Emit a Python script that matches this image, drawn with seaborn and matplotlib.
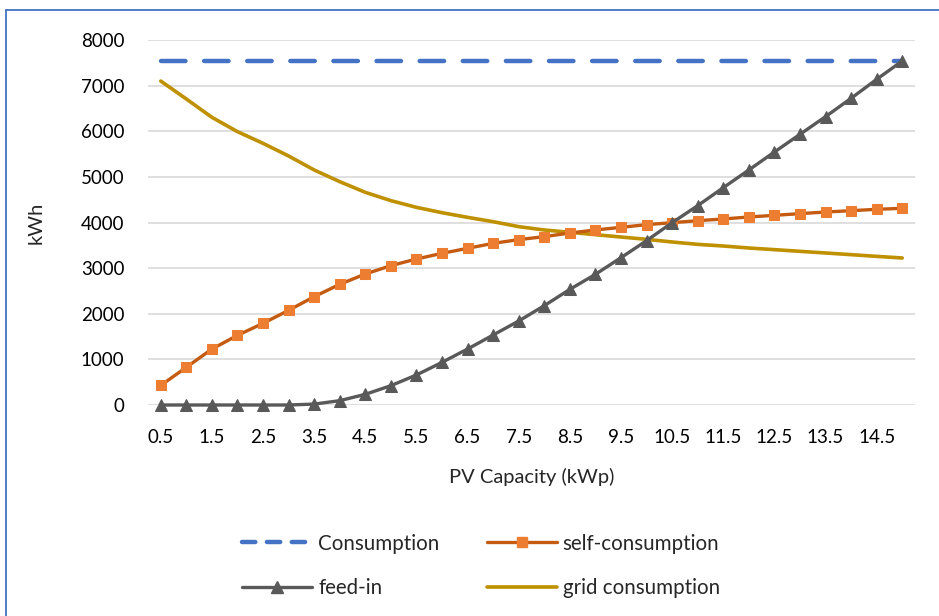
import matplotlib
matplotlib.use("Agg")
import matplotlib.pyplot as plt
import seaborn as sns
import pandas as pd
from matplotlib.lines import Line2D

capacity = [0.5, 1.0, 1.5, 2.0, 2.5, 3.0, 3.5, 4.0, 4.5, 5.0,
            5.5, 6.0, 6.5, 7.0, 7.5, 8.0, 8.5, 9.0, 9.5, 10.0,
            10.5, 11.0, 11.5, 12.0, 12.5, 13.0, 13.5, 14.0, 14.5, 15.0]
consumption = [7530] * 30
self_consumption = [430, 826, 1227, 1527, 1790, 2075, 2374, 2645, 2871, 3054,
                    3200, 3324, 3434, 3543, 3625, 3690, 3770, 3836, 3894, 3953,
                    3996, 4040, 4077, 4121, 4157, 4194, 4230, 4259, 4289, 4311]
feed_in = [0, 0, 0, 0, 0, 0, 20, 95, 234, 424,
           658, 935, 1227, 1534, 1841, 2177, 2535, 2864, 3229, 3602,
           3996, 4369, 4763, 5151, 5545, 5932, 6320, 6722, 7138, 7540]
grid_consumption = [7100, 6707, 6305, 5991, 5735, 5458, 5151, 4895, 4661, 4479,
                    4332, 4215, 4113, 4018, 3909, 3836, 3785, 3733, 3682, 3631,
                    3573, 3521, 3485, 3441, 3405, 3368, 3332, 3295, 3258, 3222]
x_tick_labels = ["0.5", "1.5", "2.5", "3.5", "4.5", "5.5", "6.5", "7.5",
                 "8.5", "9.5", "10.5", "11.5", "12.5", "13.5", "14.5"]
y_ticks = [0, 1000, 2000, 3000, 4000, 5000, 6000, 7000, 8000]

df = pd.DataFrame({
    "capacity": capacity,
    "Consumption": consumption,
    "self-consumption": self_consumption,
    "feed-in": feed_in,
    "grid consumption": grid_consumption,
})

sns.set_theme(style="white")
plt.rcParams["font.family"] = ["Lato", "DejaVu Sans"]

fig = plt.figure(figsize=(9.39, 6.16), dpi=100)
ax = fig.add_axes([148 / 939, 1 - 405 / 616, (915 - 148) / 939, (405 - 40) / 616])

blue = "#4472C4"
orange_line = "#C55A11"
orange_mark = "#ED7D31"
gray = "#595959"
gold = "#BF9000"

sns.lineplot(data=df, x="capacity", y="Consumption", ax=ax, color=blue,
             linewidth=3.2, zorder=3)
ax.lines[-1].set_dashes([5.5, 4.2])
ax.lines[-1].set_dash_capstyle("round")
sns.lineplot(data=df, x="capacity", y="grid consumption", ax=ax, color=gold,
             linewidth=2.6, zorder=3)
sns.lineplot(data=df, x="capacity", y="self-consumption", ax=ax, color=orange_line,
             linewidth=2.4, marker="s", markersize=7, markerfacecolor=orange_mark,
             markeredgecolor=orange_mark, zorder=4)
sns.lineplot(data=df, x="capacity", y="feed-in", ax=ax, color=gray,
             linewidth=2.4, marker="^", markersize=8.5, markerfacecolor=gray,
             markeredgecolor=gray, zorder=5)
for ln in ax.lines:
    ln.set_clip_on(False)

ax.set_xlim(0.25, 15.25)
ax.set_ylim(0, 8000)
ax.set_yticks(y_ticks)
ax.set_yticklabels([str(v) for v in y_ticks], fontsize=13.5)
ax.set_xticks([float(t) for t in x_tick_labels])
ax.set_xticklabels(x_tick_labels, fontsize=13.5)
ax.tick_params(axis="x", length=0, pad=17, colors="black")
ax.tick_params(axis="y", length=0, pad=17, colors="black")
ax.yaxis.grid(True, color="#D9D9D9", linewidth=1.2)
ax.set_axisbelow(True)
for s in ax.spines.values():
    s.set_visible(False)
ax.set_xlabel("PV Capacity (kWp)", fontsize=14.5, labelpad=16)
ax.set_ylabel("kWh", fontsize=14.5, labelpad=26)

handles = [
    Line2D([], [], color=blue, linewidth=3.2, dashes=[3.0, 2.6], dash_capstyle="round"),
    Line2D([], [], color=gray, linewidth=2.4, marker="^", markersize=8.5,
           markerfacecolor=gray, markeredgecolor=gray),
    Line2D([], [], color=orange_line, linewidth=2.4, marker="s", markersize=7,
           markerfacecolor=orange_mark, markeredgecolor=orange_mark),
    Line2D([], [], color=gold, linewidth=2.6),
]
labels = ["Consumption", "feed-in", "self-consumption", "grid consumption"]
fig.legend(handles, labels, ncol=2, loc="center", bbox_to_anchor=(481 / 939, 1 - 566 / 616),
           frameon=False, fontsize=14.8, handlelength=3.4, columnspacing=2.3,
           labelspacing=1.2, handletextpad=0.3)

# chart frame
fig.add_artist(Line2D([6 / 939, 6 / 939], [0, 1 - 10 / 616], color=blue,
                      linewidth=1.3, transform=fig.transFigure))
fig.add_artist(Line2D([6 / 939, 1], [1 - 10 / 616, 1 - 10 / 616], color=blue,
                      linewidth=1.3, transform=fig.transFigure))

fig.savefig("out.png", dpi=100, facecolor="white")
